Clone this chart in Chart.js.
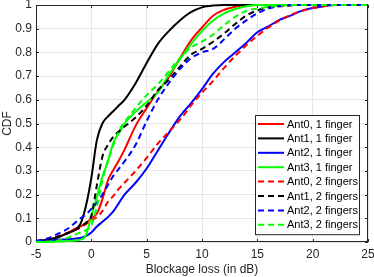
<!DOCTYPE html>
<html>
<head>
<meta charset="utf-8">
<script src="https://cdn.jsdelivr.net/npm/chart.js@4.4.1/dist/chart.umd.min.js"></script>
<style>
html, body { margin: 0; padding: 0; background: #fff; }
</style>
</head>
<body>
<canvas id="cdfChart" width="374" height="277"></canvas>
<script>
// blockage loss grid (dB) and CDF values
var loss   = [-5, -4, -3, -2, -1.5, -1, -0.5, 0, 0.5, 1, 1.5, 2, 2.5, 3, 4, 5, 6, 7, 8, 9, 10, 11, 12, 13, 14, 15, 16, 17, 18, 19, 20, 21, 22, 25];

var ant0_1 = [0.003, 0.008, 0.02, 0.042, 0.055, 0.065, 0.08, 0.10, 0.12, 0.18, 0.26, 0.305, 0.345, 0.39, 0.49, 0.565, 0.635, 0.695, 0.775, 0.85, 0.905, 0.955, 0.98, 0.993, 0.998, 1, 1, 1, 1, 1, 1, 1, 1, 1];
var ant1_1 = [0.004, 0.01, 0.02, 0.04, 0.05, 0.075, 0.15, 0.27, 0.43, 0.50, 0.53, 0.553, 0.577, 0.60, 0.67, 0.755, 0.835, 0.89, 0.935, 0.97, 0.99, 0.998, 1, 1, 1, 1, 1, 1, 1, 1, 1, 1, 1, 1];
var ant2_1 = [0.002, 0.006, 0.01, 0.012, 0.014, 0.017, 0.025, 0.04, 0.065, 0.085, 0.105, 0.13, 0.165, 0.20, 0.25, 0.31, 0.385, 0.46, 0.53, 0.585, 0.645, 0.71, 0.76, 0.80, 0.84, 0.885, 0.91, 0.937, 0.955, 0.975, 0.987, 0.995, 1, 1];
var ant3_1 = [0, 0, 0.002, 0.004, 0.006, 0.01, 0.027, 0.11, 0.19, 0.275, 0.34, 0.42, 0.46, 0.50, 0.55, 0.59, 0.63, 0.705, 0.77, 0.835, 0.89, 0.935, 0.965, 0.983, 0.995, 1, 1, 1, 1, 1, 1, 1, 1, 1];

var ant0_2 = [0.003, 0.01, 0.025, 0.04, 0.05, 0.06, 0.075, 0.09, 0.105, 0.13, 0.17, 0.195, 0.225, 0.25, 0.30, 0.355, 0.415, 0.465, 0.515, 0.575, 0.63, 0.68, 0.735, 0.785, 0.83, 0.87, 0.905, 0.935, 0.958, 0.975, 0.987, 0.995, 1, 1];
var ant1_2 = [0.003, 0.01, 0.022, 0.04, 0.05, 0.065, 0.08, 0.11, 0.24, 0.36, 0.41, 0.445, 0.467, 0.487, 0.525, 0.575, 0.64, 0.685, 0.74, 0.79, 0.815, 0.845, 0.88, 0.92, 0.955, 0.977, 0.99, 0.995, 0.998, 1, 1, 1, 1, 1];
var ant2_2 = [0.005, 0.015, 0.035, 0.06, 0.08, 0.10, 0.115, 0.14, 0.165, 0.20, 0.24, 0.28, 0.31, 0.34, 0.41, 0.51, 0.60, 0.67, 0.73, 0.775, 0.80, 0.815, 0.855, 0.90, 0.935, 0.965, 0.985, 0.995, 1, 1, 1, 1, 1, 1];
var ant3_2 = [0, 0.002, 0.006, 0.02, 0.03, 0.04, 0.05, 0.07, 0.15, 0.26, 0.345, 0.41, 0.47, 0.505, 0.565, 0.62, 0.665, 0.72, 0.775, 0.82, 0.845, 0.875, 0.915, 0.95, 0.975, 0.985, 0.992, 0.997, 1, 1, 1, 1, 1, 1];

var seriesNames = ['Ant0, 1 finger', 'Ant1, 1 finger', 'Ant2, 1 finger', 'Ant3, 1 finger',
                   'Ant0, 2 fingers', 'Ant1, 2 fingers', 'Ant2, 2 fingers', 'Ant3, 2 fingers'];
var seriesValues = [ant0_1, ant1_1, ant2_1, ant3_1, ant0_2, ant1_2, ant2_2, ant3_2];
var antColors = ['#ff0000', '#000000', '#0000ff', '#00ff00'];

var xTicks = [-5, 0, 5, 10, 15, 20, 25];
var yTicks = [0, 0.1, 0.2, 0.3, 0.4, 0.5, 0.6, 0.7, 0.8, 0.9, 1];

var FONT = "'Liberation Sans', Arial, Helvetica, sans-serif";
var AXIS_COLOR = '#262626';

function toPoints(ys) {
	var pts = [];
	for (var i = 0; i < loss.length; i++) {
		pts.push({x: loss[i], y: ys[i]});
	}
	return pts;
}

var datasets = [];
for (var i = 0; i < seriesValues.length; i++) {
	datasets.push({
		label: seriesNames[i],
		data: toPoints(seriesValues[i]),
		borderColor: antColors[i % 4],
		borderWidth: 2,
		borderDash: i < 4 ? [] : [6, 4],
		pointRadius: 0,
		fill: false,
		cubicInterpolationMode: 'monotone',
		clip: 4,
		order: seriesValues.length - i   // later series drawn on top
	});
}

// matlab style box with inward ticks, drawn under the lines
var axesBox = {
	id: 'axesBox',
	beforeDatasetsDraw: function(chart) {
		var ctx = chart.ctx, a = chart.chartArea;
		var xs = chart.scales.x, ys = chart.scales.y;
		ctx.save();
		ctx.strokeStyle = AXIS_COLOR;
		ctx.lineWidth = 1;
		ctx.strokeRect(a.left + 0.5, a.top + 0.5, a.right - a.left - 1, a.bottom - a.top - 1);
		ctx.beginPath();
		xTicks.forEach(function(v) {
			var px = Math.round(xs.getPixelForValue(v)) + 0.5;
			ctx.moveTo(px, a.bottom); ctx.lineTo(px, a.bottom - 3);
			ctx.moveTo(px, a.top); ctx.lineTo(px, a.top + 3);
		});
		yTicks.forEach(function(v) {
			var py = Math.round(ys.getPixelForValue(v)) + 0.5;
			ctx.moveTo(a.left, py); ctx.lineTo(a.left + 3, py);
			ctx.moveTo(a.right, py); ctx.lineTo(a.right - 3, py);
		});
		ctx.stroke();
		ctx.restore();
	}
};

// legend box in the lower right corner of the plot
var boxLegend = {
	id: 'boxLegend',
	afterDatasetsDraw: function(chart) {
		var ctx = chart.ctx, a = chart.chartArea;
		var w = 104, rowH = 14.4, h = rowH * 8 + 4;
		var x0 = a.right - 9 - w, y0 = a.bottom - 8 - h;
		ctx.save();
		ctx.fillStyle = '#ffffff';
		ctx.fillRect(x0, y0, w, h);
		ctx.strokeStyle = AXIS_COLOR;
		ctx.lineWidth = 1;
		ctx.strokeRect(Math.round(x0) + 0.5, Math.round(y0) + 0.5, w, h);
		ctx.font = '11px ' + FONT;
		ctx.textBaseline = 'middle';
		ctx.textAlign = 'left';
		chart.data.datasets.forEach(function(ds, k) {
			var cy = y0 + 2 + rowH * (k + 0.5);
			ctx.strokeStyle = ds.borderColor;
			ctx.lineWidth = 2;
			ctx.setLineDash(ds.borderDash);
			ctx.beginPath();
			ctx.moveTo(x0 + 3, cy);
			ctx.lineTo(x0 + 29, cy);
			ctx.stroke();
			ctx.setLineDash([]);
			ctx.fillStyle = '#000000';
			ctx.fillText(ds.label, x0 + 32, cy + 0.5);
		});
		ctx.restore();
	}
};

new Chart(document.getElementById('cdfChart'), {
	type: 'line',
	data: { datasets: datasets },
	options: {
		responsive: false,
		animation: false,
		devicePixelRatio: 1,
		layout: { padding: { left: 0, right: 6, top: 5, bottom: 0 } },
		plugins: {
			legend: { display: false },
			tooltip: { enabled: false }
		},
		scales: {
			x: {
				type: 'linear',
				min: -5,
				max: 25,
				afterBuildTicks: function(scale) {
					scale.ticks = xTicks.map(function(v) { return {value: v}; });
				},
				afterFit: function(scale) {
					scale.height = 35;
					scale.paddingLeft = 0;
					scale.paddingRight = 0;
				},
				grid: { color: '#e6e6e6', drawTicks: false },
				border: { display: false },
				ticks: {
					padding: 5,
					color: AXIS_COLOR,
					font: { family: FONT, size: 12 },
					maxRotation: 0,
					callback: function(v) { return String(v); }
				},
				title: {
					display: true,
					text: 'Blockage loss (in dB)',
					color: AXIS_COLOR,
					font: { family: FONT, size: 12 },
					padding: { top: 0, bottom: 0 }
				}
			},
			y: {
				type: 'linear',
				min: 0,
				max: 1,
				afterBuildTicks: function(scale) {
					scale.ticks = yTicks.map(function(v) { return {value: v}; });
				},
				afterFit: function(scale) {
					scale.width = 36;
					scale.paddingTop = 0;
					scale.paddingBottom = 0;
				},
				grid: { color: '#e6e6e6', drawTicks: false },
				border: { display: false },
				ticks: {
					padding: 4,
					color: AXIS_COLOR,
					font: { family: FONT, size: 12 },
					callback: function(v) { return String(Math.round(v * 10) / 10); }
				},
				title: {
					display: true,
					text: 'CDF',
					color: AXIS_COLOR,
					font: { family: FONT, size: 12 },
					padding: { top: 0, bottom: 0 }
				}
			}
		}
	},
	plugins: [axesBox, boxLegend]
});
</script>
</body>
</html>
